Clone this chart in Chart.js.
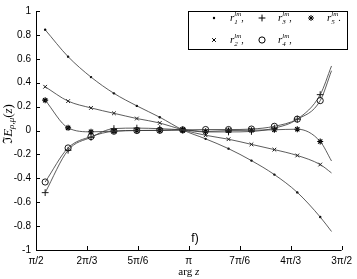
<!DOCTYPE html>
<html>
<head>
<meta charset="utf-8">
<script src="https://cdn.jsdelivr.net/npm/chart.js@4.4.0/dist/chart.umd.min.js"></script>
<style>
  html, body { margin: 0; padding: 0; background: #fff; }
</style>
</head>
<body>
<canvas id="chart" width="357" height="279"></canvas>
<script>
// arg z in units of pi
const argZ = [0.53, 0.605, 0.68, 0.755, 0.83, 0.905, 0.98, 1.055, 1.13, 1.205, 1.28, 1.355, 1.43];
const curveEndX = 1.467;

// Im E values at the markers, plus where each curve ends on the right
const r1 = [0.843, 0.618, 0.447, 0.311, 0.206, 0.111, 0.005, -0.07, -0.152, -0.252, -0.369, -0.518, -0.724];
const r2 = [0.366, 0.246, 0.189, 0.144, 0.100, 0.063, 0.005, -0.040, -0.073, -0.116, -0.160, -0.209, -0.285];
const r3 = [-0.520, -0.165, -0.057, 0.016, 0.020, 0.015, 0.005, -0.012, -0.012, -0.008, 0.020, 0.095, 0.300];
const r4 = [-0.431, -0.146, -0.051, -0.006, 0.000, 0.002, 0.005, 0.008, 0.008, 0.012, 0.035, 0.095, 0.250];
const r5 = [0.254, 0.022, -0.011, -0.005, 0.000, 0.000, 0.005, -0.008, 0.000, 0.002, 0.006, 0.011, -0.092];
const curveEnds = [-0.845, -0.355, 0.540, 0.500, -0.255];

const xTicks = [1/2, 2/3, 5/6, 1, 7/6, 4/3, 3/2];
const xTickLabels = ['π/2', '2π/3', '5π/6', 'π', '7π/6', '4π/3', '3π/2'];
const yTicks = [-1, -0.8, -0.6, -0.4, -0.2, 0, 0.2, 0.4, 0.6, 0.8, 1];

const series = [r1, r2, r3, r4, r5];
const markerStyles = [
  { pointStyle: 'circle', radius: 1.2, borderWidth: 0, fill: '#000' },
  { pointStyle: 'crossRot', radius: 2.6, borderWidth: 0.9, fill: '#000' },
  { pointStyle: 'cross', radius: 3.4, borderWidth: 0.9, fill: '#000' },
  { pointStyle: 'circle', radius: 3.1, borderWidth: 0.9, fill: 'rgba(0,0,0,0)' },
  { pointStyle: 'star', radius: 3, borderWidth: 1.1, fill: '#000' }
];

const datasets = [];
series.forEach((vals, i) => {
  const pts = argZ.map((x, k) => ({ x: x, y: vals[k] }));
  datasets.push({
    data: pts.concat([{ x: curveEndX, y: curveEnds[i] }]),
    showLine: true,
    borderColor: '#333',
    borderWidth: 0.8,
    pointRadius: 0,
    cubicInterpolationMode: 'monotone'
  });
});
series.forEach((vals, i) => {
  const m = markerStyles[i];
  datasets.push({
    data: argZ.map((x, k) => ({ x: x, y: vals[k] })),
    showLine: false,
    pointStyle: m.pointStyle,
    pointRadius: m.radius,
    pointBorderWidth: m.borderWidth,
    pointBorderColor: '#000',
    pointBackgroundColor: m.fill
  });
});

function drawR(ctx, x, y, sub, tail) {
  ctx.textAlign = 'left';
  ctx.textBaseline = 'alphabetic';
  ctx.font = 'italic 11px "Liberation Serif"';
  ctx.fillText('r', x, y);
  const w = ctx.measureText('r').width;
  ctx.font = 'italic 7px "Liberation Serif"';
  ctx.fillText('lm', x + w, y - 5);
  ctx.fillText(sub, x + w, y + 3);
  const w2 = ctx.measureText('lm').width;
  ctx.font = '10px "Liberation Serif"';
  ctx.fillText(tail, x + w + w2, y);
}

const decorations = {
  id: 'decorations',
  afterDraw(chart) {
    const { ctx, chartArea: a, scales: { x, y } } = chart;
    ctx.save();
    ctx.strokeStyle = '#000';
    ctx.lineWidth = 1;
    ctx.beginPath();
    ctx.moveTo(a.left + 0.5, a.top);
    ctx.lineTo(a.left + 0.5, a.bottom + 0.5);
    ctx.lineTo(a.right, a.bottom + 0.5);
    xTicks.forEach(v => {
      const px = Math.round(x.getPixelForValue(v)) + 0.5;
      ctx.moveTo(px, a.bottom);
      ctx.lineTo(px, a.bottom - 4);
    });
    yTicks.forEach(v => {
      const py = Math.round(y.getPixelForValue(v)) + 0.5;
      ctx.moveTo(a.left, py);
      ctx.lineTo(a.left + 4, py);
    });
    ctx.stroke();

    // legend box
    ctx.strokeRect(188.5, 11.5, 159, 38);
    const rows = [[0, 2, 4], [1, 3]];
    const subs = ['1', '2', '3', '4', '5'];
    const colX = [214, 262, 311];
    const rowY = [21, 43];
    rows.forEach((row, ri) => {
      row.forEach((si, ci) => {
        const m = markerStyles[si];
        ctx.fillStyle = m.fill;
        ctx.strokeStyle = '#000';
        Chart.helpers.drawPoint(ctx, {
          pointStyle: m.pointStyle, radius: m.radius, rotation: 0, borderWidth: m.borderWidth
        }, colX[ci], rowY[ri] - 3);
        ctx.fillStyle = '#000';
        drawR(ctx, colX[ci] + 16, rowY[ri], subs[si], si === 4 ? '.' : ',');
      });
    });

    // panel tag
    ctx.fillStyle = '#000';
    ctx.font = '12px "Liberation Sans"';
    ctx.textAlign = 'center';
    ctx.textBaseline = 'middle';
    ctx.fillText('f)', 195, 239);

    // x title
    ctx.font = '11px "Liberation Serif"';
    const argW = ctx.measureText('arg ').width;
    ctx.font = 'italic 11px "Liberation Serif"';
    const zW = ctx.measureText('z').width;
    const x0 = x.getPixelForValue(1) - (argW + zW) / 2;
    ctx.textAlign = 'left';
    ctx.font = '11px "Liberation Serif"';
    ctx.fillText('arg ', x0, 272);
    ctx.font = 'italic 11px "Liberation Serif"';
    ctx.fillText('z', x0 + argW, 272);

    // y title
    ctx.translate(9, 124);
    ctx.rotate(-Math.PI / 2);
    ctx.textBaseline = 'middle';
    const parts = [
      ['13px "DejaVu Serif"', 'ℑ', 0],
      ['italic 13px "Liberation Serif"', 'E', 0],
      ['italic 9px "Liberation Serif"', 'ρ,μ', 3],
      ['13px "Liberation Serif"', '(', 0],
      ['italic 13px "Liberation Serif"', 'z', 0],
      ['13px "Liberation Serif"', ')', 0]
    ];
    let total = 0;
    parts.forEach(p => { ctx.font = p[0]; total += ctx.measureText(p[1]).width; });
    let cx = -total / 2;
    parts.forEach(p => {
      ctx.font = p[0];
      ctx.fillText(p[1], cx, p[2]);
      cx += ctx.measureText(p[1]).width;
    });
    ctx.restore();
  }
};

new Chart(document.getElementById('chart').getContext('2d'), {
  type: 'scatter',
  data: { datasets: datasets },
  options: {
    responsive: false,
    animation: false,
    events: [],
    layout: { padding: { top: 4, right: 10, left: 0, bottom: 0 } },
    plugins: { legend: { display: false }, tooltip: { enabled: false } },
    scales: {
      x: {
        type: 'linear',
        min: 0.5,
        max: 1.5,
        grid: { display: false, drawTicks: false },
        border: { display: false },
        afterBuildTicks: scale => { scale.ticks = xTicks.map(v => ({ value: v })); },
        afterFit: scale => { scale.height = 29; },
        ticks: {
          autoSkip: false,
          maxRotation: 0,
          padding: 5,
          color: '#000',
          font: { family: 'Liberation Sans', size: 10 },
          callback: (v, i) => xTickLabels[i]
        }
      },
      y: {
        type: 'linear',
        min: -1,
        max: 1,
        grid: { display: false, drawTicks: false },
        border: { display: false },
        afterBuildTicks: scale => { scale.ticks = yTicks.map(v => ({ value: v })); },
        afterFit: scale => { scale.width = 36; },
        ticks: {
          autoSkip: false,
          padding: 5,
          color: '#000',
          font: { family: 'Liberation Sans', size: 10 },
          callback: v => String(Math.round(v * 10) / 10)
        }
      }
    }
  },
  plugins: [decorations]
});
</script>
</body>
</html>
